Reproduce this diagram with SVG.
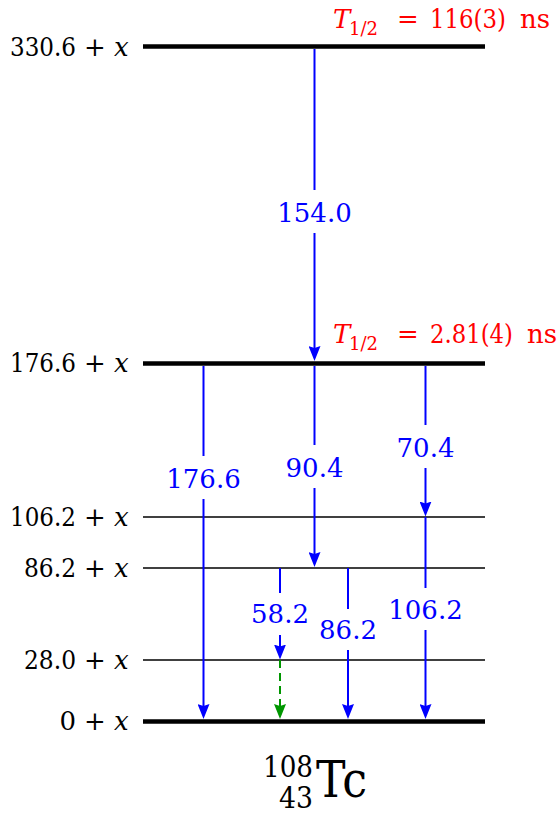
<svg xmlns="http://www.w3.org/2000/svg" width="560" height="814" viewBox="0 0 560 814">
<style>
.s { font-family: "DejaVu Serif", serif; }
.lvl{font-size:26px;fill:#000;}
.thick{stroke:#000;stroke-width:4.6;}
.thin{stroke:#000;stroke-width:1.3;}
.tr{stroke:#0000ff;stroke-width:2;fill:none;}
.gr{stroke:#009600;stroke-width:2;fill:none;stroke-dasharray:8 5;}
.lab{font-size:26px;fill:#0000ff;text-anchor:middle;}
.hl{font-size:26px;fill:#ff0000;}
.bg{fill:#fff;}
.it{font-style:italic;}
</style>
<defs>
<marker id="ab" markerUnits="userSpaceOnUse" markerWidth="16" markerHeight="12" refX="7" refY="6" orient="auto" viewBox="0 0 16 12">
<path d="M0,0 L15,6 L0,12 L2,6 z" fill="#0000ff"/>
</marker>
<marker id="ag" markerUnits="userSpaceOnUse" markerWidth="16" markerHeight="12" refX="7" refY="6" orient="auto" viewBox="0 0 16 12">
<path d="M0,0 L15,6 L0,12 L2,6 z" fill="#009600"/>
</marker>
</defs>

<g id="level-330">
<line class="thick" x1="143" y1="46.5" x2="485" y2="46.5"/>
<text class="s lvl" y="56"><tspan x="10" textLength="66" lengthAdjust="spacingAndGlyphs">330.6</tspan><tspan x="84">+</tspan><tspan x="114" class="it">x</tspan></text>
<text class="s hl" y="28"><tspan x="333" class="it">T</tspan><tspan x="349" dy="7" font-size="18">1/2</tspan><tspan x="397" dy="-7">=</tspan><tspan x="430" textLength="76" lengthAdjust="spacingAndGlyphs">116(3)</tspan><tspan x="520">ns</tspan></text>
</g>
<g id="level-176">
<line class="thick" x1="143" y1="363.5" x2="485" y2="363.5"/>
<text class="s lvl" y="372"><tspan x="10" textLength="66" lengthAdjust="spacingAndGlyphs">176.6</tspan><tspan x="84">+</tspan><tspan x="114" class="it">x</tspan></text>
<text class="s hl" y="343"><tspan x="333" class="it">T</tspan><tspan x="349" dy="7" font-size="18">1/2</tspan><tspan x="397" dy="-7">=</tspan><tspan x="430" textLength="83" lengthAdjust="spacingAndGlyphs">2.81(4)</tspan><tspan x="527">ns</tspan></text>
</g>
<g id="level-106">
<line class="thin" x1="143" y1="517" x2="485" y2="517"/>
<text class="s lvl" y="526"><tspan x="10" textLength="66" lengthAdjust="spacingAndGlyphs">106.2</tspan><tspan x="84">+</tspan><tspan x="114" class="it">x</tspan></text>
</g>
<g id="level-86">
<line class="thin" x1="143" y1="568" x2="485" y2="568"/>
<text class="s lvl" y="577"><tspan x="24" textLength="52" lengthAdjust="spacingAndGlyphs">86.2</tspan><tspan x="84">+</tspan><tspan x="114" class="it">x</tspan></text>
</g>
<g id="level-28">
<line class="thin" x1="143" y1="660" x2="485" y2="660"/>
<text class="s lvl" y="669"><tspan x="24" textLength="52" lengthAdjust="spacingAndGlyphs">28.0</tspan><tspan x="84">+</tspan><tspan x="114" class="it">x</tspan></text>
</g>
<g id="level-0">
<line class="thick" x1="143" y1="721.5" x2="485" y2="721.5"/>
<text class="s lvl" y="730"><tspan x="76" text-anchor="end">0</tspan><tspan x="84">+</tspan><tspan x="114" class="it">x</tspan></text>
</g>

<g id="connectors">
<line class="tr" x1="314.5" y1="49" x2="314.5" y2="353" marker-end="url(#ab)"/>
<line class="tr" x1="203.5" y1="366" x2="203.5" y2="711" marker-end="url(#ab)"/>
<line class="tr" x1="314.5" y1="366" x2="314.5" y2="559" marker-end="url(#ab)"/>
<line class="tr" x1="425.5" y1="366" x2="425.5" y2="508.5" marker-end="url(#ab)"/>
<line class="tr" x1="425.5" y1="517" x2="425.5" y2="711" marker-end="url(#ab)"/>
<line class="tr" x1="280" y1="568" x2="280" y2="651.5" marker-end="url(#ab)"/>
<line class="gr" x1="280" y1="660" x2="280" y2="711" marker-end="url(#ag)"/>
<line class="tr" x1="348" y1="568" x2="348" y2="711" marker-end="url(#ab)"/>

<rect class="bg" x="309" y="190" width="11" height="43"/>
<text class="s lab" x="314.5" y="222">154.0</text>
<rect class="bg" x="198" y="456" width="11" height="43"/>
<text class="s lab" x="203.5" y="488">176.6</text>
<rect class="bg" x="309" y="445" width="11" height="43"/>
<text class="s lab" x="314.5" y="477">90.4</text>
<rect class="bg" x="420" y="425" width="11" height="43"/>
<text class="s lab" x="425.5" y="457">70.4</text>
<rect class="bg" x="274.5" y="593" width="11" height="42"/>
<text class="s lab" x="280" y="623">58.2</text>
<rect class="bg" x="342.5" y="609" width="11" height="41"/>
<text class="s lab" x="348" y="639">86.2</text>
<rect class="bg" x="420" y="588" width="11" height="42"/>
<text class="s lab" x="425.5" y="619">106.2</text>
</g>

<g id="nuclide">
<text class="s" font-size="29"><tspan x="263" y="777" textLength="50" lengthAdjust="spacingAndGlyphs">108</tspan><tspan x="279" y="808" textLength="34" lengthAdjust="spacingAndGlyphs">43</tspan><tspan x="316" y="797" font-size="50" textLength="51" lengthAdjust="spacingAndGlyphs">Tc</tspan></text>
</g>
</svg>
